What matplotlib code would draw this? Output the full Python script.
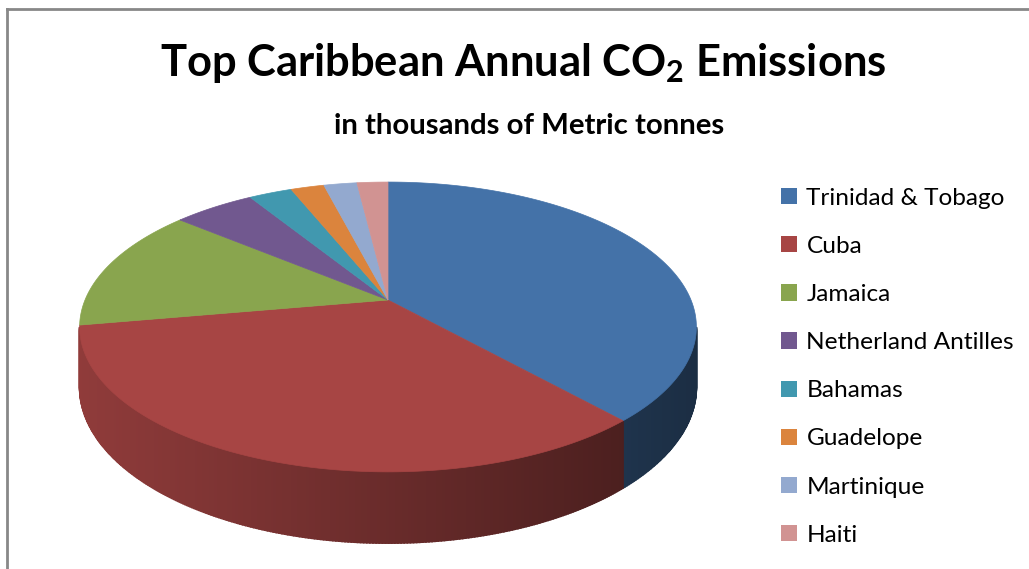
import numpy as np
import matplotlib.pyplot as plt
from matplotlib.patches import Polygon, Patch
from matplotlib.lines import Line2D

# data (thousands of metric tonnes)
countries = ['Trinidad & Tobago', 'Cuba', 'Jamaica', 'Netherland Antilles',
             'Bahamas', 'Guadelope', 'Martinique', 'Haiti']
emissions = [33000, 29150, 11900, 4400, 2340, 1800, 1790, 1670]
colors = ['#4472A8', '#A74544', '#89A54E', '#71588F',
          '#4198AF', '#DB843D', '#93A9CF', '#D19392']

W, H = 1029, 569
fig = plt.figure(figsize=(W / 100, H / 100), dpi=100)
ax = fig.add_axes([0, 0, 1, 1])
ax.set_xlim(0, W)
ax.set_ylim(H, 0)
ax.axis('off')

# pie geometry in pixels, simple perspective (far side squashed)
cx, cy = 388, 300      # apex of the slices
R = 303
a_p, c_p = 84.1, -0.186
depth = 58


def project(theta, drop=0.0):
    # theta: clockwise from 12 o'clock (radians)
    u = np.sin(theta)
    v = -np.cos(theta)
    den = 1 + c_p * v
    x = cx + R * u / den
    y = (a_p * v + cy) / den + drop / den
    return x, y


def shade(col, x):
    f = 0.86 - (x - 80) / (696 - 80) * 0.46
    rgb = np.array(plt.matplotlib.colors.to_rgb(col))
    return tuple(np.clip(rgb * f, 0, 1))


vals = np.array(emissions, dtype=float)
bounds = np.concatenate([[0], np.cumsum(vals) / vals.sum() * 2 * np.pi])

# side wall (front part only, up to the silhouette)
sil = np.arccos(c_p)   # where the outline is widest
vis_lo, vis_hi = sil, 2 * np.pi - sil
for i in range(len(vals)):
    t0, t1 = max(bounds[i], vis_lo), min(bounds[i + 1], vis_hi)
    if t1 <= t0:
        continue
    ts = np.linspace(t0, t1, max(2, int((t1 - t0) * 120)))
    for ta, tb in zip(ts[:-1], ts[1:]):
        xa, ya = project(ta)
        xb, yb = project(tb)
        xa2, ya2 = project(ta, depth)
        xb2, yb2 = project(tb, depth)
        c = shade(colors[i], (xa + xb) / 2)
        ax.add_patch(Polygon([(xa, ya), (xb, yb), (xb2, yb2), (xa2, ya2)],
                             closed=True, facecolor=c, edgecolor=c, lw=1.2))

# top faces
for i in range(len(vals)):
    ts = np.linspace(bounds[i], bounds[i + 1], 200)
    xs, ys = project(ts)
    pts = [(cx, cy)] + list(zip(xs, ys))
    ax.add_patch(Polygon(pts, closed=True, facecolor=colors[i],
                         edgecolor=colors[i], lw=0.5))

# chart border (top and left visible)
ax.add_line(Line2D([7, W], [8.5, 8.5], color='#888888', lw=2))
ax.add_line(Line2D([7, 7], [8.5, H], color='#888888', lw=2))

ttl = ['Lato', 'DejaVu Sans']
ax.text(523, 63, r'Top Caribbean Annual CO$_\mathregular{2}$ Emissions',
        ha='center', va='center', fontsize=31.3, fontweight='bold', family=ttl)
ax.text(529, 126, 'in thousands of Metric tonnes', ha='center', va='center',
        fontsize=21.2, fontweight='bold', family=ttl)

handles = [Patch(facecolor=c, edgecolor='none') for c in colors]
leg = ax.legend(handles, countries, loc='upper left',
                bbox_to_anchor=(771 / W, 1 - 178 / H), frameon=False,
                prop={'family': 'Lato', 'size': 17.6},
                handlelength=0.65, handleheight=0.65, handletextpad=0.4,
                labelspacing=1.11, borderaxespad=0)

fig.savefig('out.png', dpi=100)
